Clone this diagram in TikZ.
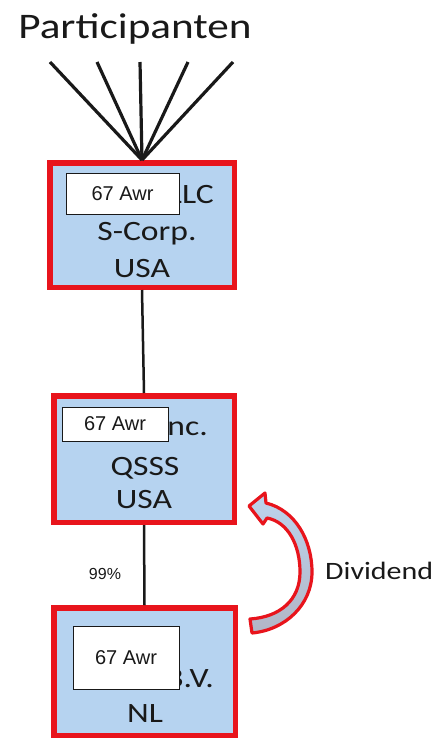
\documentclass[tikz,border=0pt]{standalone}
\usepackage{fontspec}
\setmainfont{Carlito}[FakeStretch=1.2]
\newfontfamily\arialfont{Liberation Sans}
\definecolor{boxred}{RGB}{232,20,28}
\definecolor{boxblue}{RGB}{182,211,240}
\definecolor{arrowtop}{RGB}{188,212,238}
\definecolor{arrowbot}{RGB}{178,182,198}
\definecolor{ink}{RGB}{25,25,25}
\tikzset{
  entity/.style={draw=boxred, line width=5.5pt, fill=boxblue, rectangle},
  tag/.style={draw=ink, line width=0.7pt, fill=white, rectangle, inner sep=0pt,
    font=\arialfont\fontsize{20}{22}\selectfont, text=ink},
  label/.style={inner sep=0pt, anchor=base, text=ink,
    font=\fontsize{28}{30}\selectfont},
  link/.style={draw=ink, line width=2.5pt},
  fan/.style={draw=ink, line width=3.2pt}
}
\begin{document}
\begin{tikzpicture}[x=1pt,y=1pt]
\useasboundingbox (0,0) rectangle (432,-740);

% title
\node[label, font=\fontsize{36}{40}\selectfont] (title) at (135,-38) {Participanten};

% entity boxes
\node[entity, minimum width=184.5pt, minimum height=124.5pt] (b1) at (142,-225) {};
\node[entity, minimum width=180.5pt, minimum height=126.5pt] (b2) at (144,-459) {};
\node[entity, minimum width=181.5pt, minimum height=127.5pt] (b3) at (144.5,-671.5) {};

% entity texts
\node[label, anchor=base east] (llc) at (214,-203) {LLC};
\node[label] (scorp) at (147,-240) {S-Corp.};
\node[label] (usa1) at (142,-277) {USA};

\node[label, anchor=base east] (inc) at (208,-435) {nc.};
\node[label] (qsss) at (145,-475) {QSSS};
\node[label] (usa2) at (144,-508) {USA};

\node[label, anchor=base east] (bv) at (214,-687) {B.V.};
\node[label] (nl) at (145,-722) {NL};

% white tags
\node[tag, minimum width=113pt, minimum height=41pt] (w1) at (122.5,-193.5) {67 Awr};
\node[tag, minimum width=106pt, minimum height=34pt] (w2) at (115,-424) {67 Awr};
\node[tag, minimum width=106pt, minimum height=63pt] (w3) at (126,-657.5) {67 Awr};

% participant lines
\coordinate (p1) at (50,-62);
\coordinate (p2) at (97,-62);
\coordinate (p3) at (140,-62);
\coordinate (p4) at (188,-62);
\coordinate (p5) at (233,-62);
\foreach \p in {p1,p2,p3,p4,p5}
  \draw[fan] (b1.north) -- (\p);

% ownership links
\draw[link] (b1.south) -- (b2.north);
\draw[link] (b2.south) -- (b3.north);
\node[inner sep=0pt, font=\arialfont\fontsize{16}{18}\selectfont, text=ink] (pct) at (105,-573.5) {99\%};

% dividend arrow
\draw[boxred, line width=3.2pt, line join=round, top color=arrowtop, bottom color=arrowbot]
  (249,-506) -- (265,-493) -- (266,-503)
  .. controls (295,-510) and (312,-540) .. (312,-572)
  .. controls (312,-605) and (285,-630) .. (252,-633)
  -- (250,-619)
  .. controls (280,-617) and (300,-600) .. (300,-572)
  .. controls (300,-545) and (288,-522) .. (267,-518)
  -- (263,-524) -- cycle;
\node[label, anchor=base west, font=\fontsize{25}{28}\selectfont] (div) at (325,-579) {Dividend};
\end{tikzpicture}
\end{document}
